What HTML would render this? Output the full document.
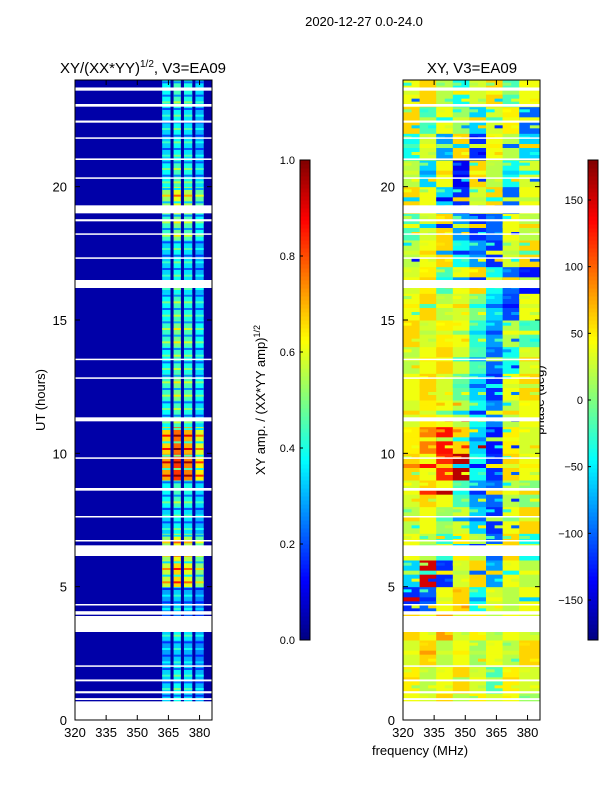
<!DOCTYPE html>
<html><head><meta charset="utf-8"><style>
body{margin:0;background:#fff;font-family:"Liberation Sans","DejaVu Sans",sans-serif}
svg text{font-family:"Liberation Sans","DejaVu Sans",sans-serif;fill:#000}
</style></head><body>
<svg id="c" width="600" height="800" xmlns="http://www.w3.org/2000/svg">
<text x="364" y="26" font-size="13" text-anchor="middle">2020-12-27 0.0-24.0</text>
<text x="143" y="73" font-size="15" text-anchor="middle">XY/(XX*YY)<tspan font-size="10" dy="-6">1/2</tspan><tspan dy="6">, V3=EA09</tspan></text>
<text x="472" y="73" font-size="15" text-anchor="middle">XY, V3=EA09</text>
<text transform="translate(45,400) rotate(-90)" font-size="13" text-anchor="middle">UT (hours)</text>
<text transform="translate(265,400) rotate(-90)" font-size="13" text-anchor="middle">XY amp. / (XX*YY amp)<tspan font-size="9" dy="-5">1/2</tspan></text>
<text transform="translate(544,400) rotate(-90)" font-size="13" text-anchor="middle">phase (deg)</text>
<text x="420" y="755" font-size="13" text-anchor="middle">frequency (MHz)</text>
<g id="g"></g>
</svg>
<script>
const hours=[0,1,2,3,4,5,6,7,8,9,10,11,12,13,14,15,16,17,18,19,20,21,22,23];
const ampBright=[0.35,0.35,0.3,0.35,0.3,0.6,0.55,0.35,0.4,0.75,0.7,0.4,0.45,0.4,0.45,0.4,0.35,0.35,0.45,0.55,0.4,0.35,0.35,0.4];
const ampBackground=0.04;
const brightStart=[362,367.5,372.5,378];
const brightEnd=[366,371,376.5,382];
const colGain=[0.95,1.1,1.0,0.85];
const phaseFreqs=[320,328,336,344,352,360,368,376];
const phase=[
[40,30,60,20,50,30,40,10],[50,20,40,60,30,-20,50,30],[30,60,20,40,10,40,20,60],[60,40,80,30,50,20,40,30],
[-120,-100,40,60,-40,30,20,40],[-60,150,-120,30,60,-80,40,20],[40,20,-30,50,20,-100,60,-40],[20,40,10,30,-60,-120,40,60],
[30,60,40,-20,-80,-100,20,0],[60,40,120,160,-40,-120,60,40],[50,90,130,60,-60,-130,50,30],[30,50,40,20,-40,-90,20,40],
[40,60,30,-10,-60,-120,40,60],[20,40,60,30,-20,-100,-40,30],[60,30,50,40,-30,-80,20,-20],[40,60,20,30,0,-60,-110,40],
[30,50,-20,40,60,-40,-100,-130],[20,40,60,-40,-80,-120,30,60],[-20,30,60,-80,-120,-100,40,20],[60,40,-60,-120,30,60,-100,40],
[20,-60,40,-140,60,20,-40,30],[-40,30,-80,60,-120,40,20,-60],[60,-20,40,10,-60,30,50,-100],[40,60,20,-40,30,60,-20,40]];
const flagStart=[0,0.75,1.0,1.45,2.0,3.3,3.95,4.3,6.15,6.7,7.6,8.6,9.8,11.2,12.8,13.5,16.2,17.3,18.2,18.7,19.0,20.3,21.0,21.8,22.4,23.0,23.6];
const flagEnd=[0.7,0.82,1.08,1.52,2.05,3.9,4.08,4.35,6.55,6.75,7.65,8.7,9.85,11.35,12.85,13.55,16.5,17.35,18.25,18.78,19.3,20.35,21.06,21.85,22.48,23.1,23.72];
const ampTicks=[0,0.2,0.4,0.6,0.8,1.0];
const phaseTicks=[-150,-100,-50,0,50,100,150];
const xTicks=[320,335,350,365,380];
const yTicks=[0,5,10,15,20];
const NS="http://www.w3.org/2000/svg",g=document.getElementById('g');
function jet(v){v=Math.max(0,Math.min(1,v));const f=t=>Math.round(255*Math.max(0,Math.min(1,1.5-Math.abs(4*v-t))));return `rgb(${f(3)},${f(2)},${f(1)})`;}
function el(t,a,p){const e=document.createElementNS(NS,t);for(const k in a)e.setAttribute(k,a[k]);(p||g).appendChild(e);return e;}
const yS=h=>720-h*640/24;
function panel(x0){return f=>x0+(f-320)*137/66;}
const xL=panel(75),xR=panel(403);
let r=el('rect',{x:75,y:80,width:137,height:640,fill:jet(ampBackground)});

hours.forEach((h,i)=>{brightStart.forEach((s,j)=>{
 const c=el('rect',{x:xL(s),y:yS(h+1),width:xL(brightEnd[j])-xL(s),height:640/24+0.5,fill:jet(ampBright[i]*colGain[j])});
 
 for(let k=0;k<4;k++){const q=el('rect',{x:xL(s),y:yS(h+0.25*k+0.2),width:xL(brightEnd[j])-xL(s),height:2,fill:jet(ampBright[i]*colGain[j]*(k%2?0.6:1.3))});
 }
});});
hours.forEach((h,i)=>{phaseFreqs.forEach((f,j)=>{
 const f2=j<phaseFreqs.length-1?phaseFreqs[j+1]:386;
 const w=xR(f2)-xR(f)+0.5;
 const c=el('rect',{x:xR(f),y:yS(h+1),width:w,height:640/24+0.5,fill:jet((phase[i][j]+180)/360)});
 
 const nb=phase[(i+1)%24][(j+1)%8], nb2=phase[(i+23)%24][(j+7)%8];
 let q=el('rect',{x:xR(f),y:yS(h+0.6),width:w,height:4,fill:jet((nb+180)/360)});
 
 q=el('rect',{x:xR(f)+w/2,y:yS(h+0.3),width:w/2,height:3,fill:jet((nb2+180)/360)});
 
 q=el('rect',{x:xR(f),y:yS(h+0.9),width:w/2,height:3,fill:jet(((phase[i][j]+nb2)/2+180)/360)});
 
});});
flagStart.forEach((s,i)=>{[75,403].forEach(x0=>{
 const f=el('rect',{x:x0,y:yS(flagEnd[i]),width:137,height:Math.max(1.5,(flagEnd[i]-s)*640/24),fill:'#fff'});
 });});
[75,403].forEach((x0,pi)=>{
 const xs=pi?xR:xL;
 const fr=el('rect',{x:x0,y:80,width:137,height:640,fill:'none',stroke:'#000','stroke-width':1});
 
 xTicks.forEach(t=>{const X=xs(t);el('line',{x1:X,x2:X,y1:720,y2:715,stroke:'#000'});el('line',{x1:X,x2:X,y1:80,y2:85,stroke:'#000'});
  const tx=el('text',{x:X,y:737,'font-size':13,'text-anchor':'middle'});tx.textContent=t;
  });
 yTicks.forEach(t=>{const Y=yS(t);el('line',{x1:x0,x2:x0+5,y1:Y,y2:Y,stroke:'#000'});el('line',{x1:x0+137,x2:x0+132,y1:Y,y2:Y,stroke:'#000'});
  const tx=el('text',{x:x0-8,y:Y+5,'font-size':13,'text-anchor':'end'});tx.textContent=t;
  });
});
function cbar(x,ticks,lo,hi,name,fmt){
 for(let i=0;i<120;i++){const v=i/120;const s=el('rect',{x:x,y:640-(i+1)*4,width:10,height:4.5,fill:jet(v+1/240)});
  }
 const fr=el('rect',{x:x,y:160,width:10,height:480,fill:'none',stroke:'#000'});
 
 ticks.forEach(t=>{const Y=640-(t-lo)/(hi-lo)*480;el('line',{x1:x,x2:x+3,y1:Y,y2:Y,stroke:'#000'});
  const tx=el('text',{x:x-5,y:Y+4,'font-size':11,'text-anchor':'end'});tx.textContent=fmt(t);
  });
}
cbar(300,ampTicks,0,1,'amp-colorbar',t=>t.toFixed(1));
cbar(588,phaseTicks,-180,180,'phase-colorbar',t=>t<0?'\u2212'+(-t):String(t));
</script>
</body></html>
